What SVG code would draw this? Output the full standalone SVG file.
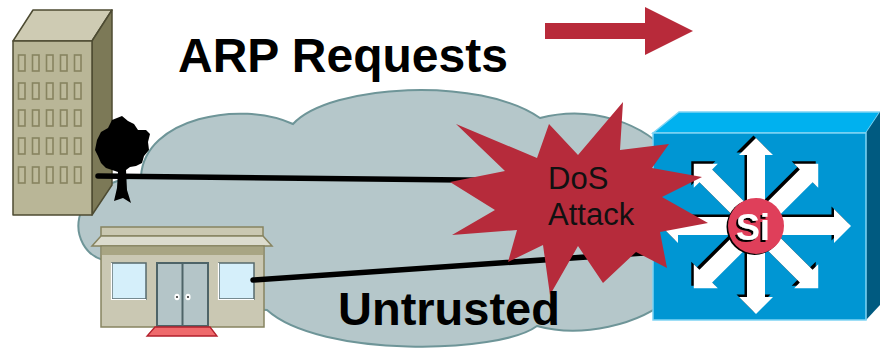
<svg xmlns="http://www.w3.org/2000/svg" width="880" height="348" viewBox="0 0 880 348">
  <defs>
    <style>
      .label { font-family: "Liberation Sans", Arial, sans-serif; font-weight: bold; fill: #000; }
      .burst-text { font-family: "Liberation Sans", Arial, sans-serif; font-size: 31px; fill: #111; }
      .wire { stroke: #000; stroke-width: 5.5; stroke-linecap: round; fill: none; }
      .win { fill: #bdba9b; stroke: #878460; stroke-width: 1.6; }
      .outline { stroke: #4d4b32; stroke-width: 1.5; stroke-linejoin: round; }
    </style>
    <!-- one spoke of the multilayer switch symbol, pointing right from the hub -->
    <path id="spoke" d="M0,-9H71V-17L88,0L71,17V9H0Z"/>
    <path id="spokeLong" d="M0,-9H78V-17L95,0L78,17V9H0Z"/>
    <filter id="hardShadow" x="-20%" y="-20%" width="140%" height="140%">
      <feDropShadow dx="-2" dy="2" stdDeviation="0" flood-color="#000" flood-opacity="1"/>
    </filter>
  </defs>

  <rect width="880" height="348" fill="#fff"/>

  <!-- network cloud -->
  <g id="cloud">
    <path d="M141,176 C145,118 240,100 293,124 C330,84 480,76 540,118 C590,105 645,122 672,158 L672,296 C640,326 580,338 537,326 C500,354 320,358 267,310 L112,300 L110,264 L103,260 C68,250 62,185 141,176 Z" fill="#b5c7ca" stroke="#6e9598" stroke-width="2"/>
  </g>

  <!-- office tower -->
  <g id="tower">
    <polygon points="13,41 33,10 112,10 92,41" fill="#cecbb3" class="outline"/>
    <polygon points="92,41 112,10 112,185 92,215" fill="#7c7957" class="outline"/>
    <rect x="13" y="41" width="79" height="174" fill="#b9b697" class="outline"/>
    <g>
      <rect class="win" x="18.5" y="55" width="6.5" height="16"/>
      <rect class="win" x="32.5" y="55" width="6.5" height="16"/>
      <rect class="win" x="46.5" y="55" width="6.5" height="16"/>
      <rect class="win" x="60.5" y="55" width="6.5" height="16"/>
      <rect class="win" x="74.5" y="55" width="6.5" height="16"/>
      <rect class="win" x="18.5" y="83" width="6.5" height="16"/>
      <rect class="win" x="32.5" y="83" width="6.5" height="16"/>
      <rect class="win" x="46.5" y="83" width="6.5" height="16"/>
      <rect class="win" x="60.5" y="83" width="6.5" height="16"/>
      <rect class="win" x="74.5" y="83" width="6.5" height="16"/>
      <rect class="win" x="18.5" y="110" width="6.5" height="16"/>
      <rect class="win" x="32.5" y="110" width="6.5" height="16"/>
      <rect class="win" x="46.5" y="110" width="6.5" height="16"/>
      <rect class="win" x="60.5" y="110" width="6.5" height="16"/>
      <rect class="win" x="74.5" y="110" width="6.5" height="16"/>
      <rect class="win" x="18.5" y="138" width="6.5" height="16"/>
      <rect class="win" x="32.5" y="138" width="6.5" height="16"/>
      <rect class="win" x="46.5" y="138" width="6.5" height="16"/>
      <rect class="win" x="60.5" y="138" width="6.5" height="16"/>
      <rect class="win" x="74.5" y="138" width="6.5" height="16"/>
      <rect class="win" x="18.5" y="167" width="6.5" height="16"/>
      <rect class="win" x="32.5" y="167" width="6.5" height="16"/>
      <rect class="win" x="46.5" y="167" width="6.5" height="16"/>
      <rect class="win" x="60.5" y="167" width="6.5" height="16"/>
      <rect class="win" x="74.5" y="167" width="6.5" height="16"/>
    </g>
  </g>

  <!-- tree beside the tower -->
  <g id="tree">
    <path d="M97,140 L101,132 L108,128 L112,120 L122,116 L128,121 L134,124 L138,130 L146,130 L150,134 L148,142 L149,150 L144,156 L142,163 L136,166 L130,167 L126,170 L127,190 L131,203 L123,198 L114,201 L117,188 L118,172 L112,170 L106,168 L101,163 L98,156 L95,150 Z" fill="#000"/>
  </g>

  <!-- branch office -->
  <g id="branch">
    <rect x="101" y="227" width="162" height="9" fill="#cac8b1" stroke="#878460" stroke-width="1.5"/>
    <polygon points="101,236 263,236 272,246 92,246" fill="#dcdcce" stroke="#878460" stroke-width="1.5"/>
    <rect x="101" y="246" width="163" height="81" fill="#cac8b3" stroke="#878460" stroke-width="1.5"/>
    <rect x="102" y="247" width="161" height="8" fill="#a8a583"/>
    <rect x="112" y="263" width="34" height="36" fill="#d5effa" stroke="#56696c" stroke-width="1.5"/>
    <path d="M111.5,263 V299.5 H146" fill="none" stroke="#fff" stroke-width="1.2"/>
    <rect x="219" y="263" width="35" height="36" fill="#d5effa" stroke="#56696c" stroke-width="1.5"/>
    <path d="M218.5,263 V299.5 H254" fill="none" stroke="#fff" stroke-width="1.2"/>
    <rect x="157" y="263" width="51" height="63" fill="#b4c5c8" stroke="#4e6468" stroke-width="2"/>
    <line x1="182.5" y1="263" x2="182.5" y2="326" stroke="#4e6468" stroke-width="2"/>
    <ellipse cx="177" cy="297" rx="2.6" ry="3.2" fill="#fff"/>
    <ellipse cx="188" cy="297" rx="2.6" ry="3.2" fill="#fff"/>
    <circle cx="177" cy="297" r="1.1" fill="#333"/>
    <circle cx="188" cy="297" r="1.1" fill="#333"/>
    <polygon points="155,327 210,327 217,336 147,336" fill="#ef6a6c" stroke="#b3202c" stroke-width="1.3"/>
  </g>

  <!-- links into the switch -->
  <g id="links">
    <line class="wire" x1="98" y1="176" x2="660" y2="182"/>
    <line class="wire" x1="253" y1="280" x2="658" y2="252"/>
  </g>

  <!-- multilayer switch -->
  <g id="switch">
    <polygon points="653,133 679,112 880,112 866,133" fill="#00b1ef" stroke="#7fd4f4" stroke-width="1.5"/>
    <polygon points="866,133 880,112 880,305 866,320" fill="#005a80"/>
    <rect x="653" y="133" width="213" height="187" fill="#0096d3" stroke="#7fd4f4" stroke-width="1.5"/>
    <g transform="translate(-2.5,-2.5)" fill="#000">
      <use href="#spoke" transform="translate(756,226) rotate(-90)"/>
      <use href="#spoke" transform="translate(756,226) rotate(90)"/>
      <use href="#spokeLong" transform="translate(756,226) rotate(180)"/>
      <use href="#spokeLong" transform="translate(756,226)"/>
      <use href="#spoke" transform="translate(756,226) rotate(-135)"/>
      <use href="#spoke" transform="translate(756,226) rotate(-45)"/>
      <use href="#spoke" transform="translate(756,226) rotate(135)"/>
      <use href="#spoke" transform="translate(756,226) rotate(45)"/>
    </g>
    <g fill="#fff">
      <use href="#spoke" transform="translate(756,226) rotate(-90)"/>
      <use href="#spoke" transform="translate(756,226) rotate(90)"/>
      <use href="#spokeLong" transform="translate(756,226) rotate(180)"/>
      <use href="#spokeLong" transform="translate(756,226)"/>
      <use href="#spoke" transform="translate(756,226) rotate(-135)"/>
      <use href="#spoke" transform="translate(756,226) rotate(-45)"/>
      <use href="#spoke" transform="translate(756,226) rotate(135)"/>
      <use href="#spoke" transform="translate(756,226) rotate(45)"/>
    </g>
    <circle cx="754.5" cy="227" r="28" fill="#000"/>
    <circle cx="756" cy="226" r="28" fill="#df3f5a"/>
    <text x="753" y="240" text-anchor="middle" class="label" font-size="36" style="fill:#fff" filter="url(#hardShadow)">Si</text>
  </g>

  <!-- attack burst -->
  <g id="dos-attack">
    <polygon points="456,124 537,158 549,124 578,155 623,102 620,150 669,144 652,168 702,177 662,197 708,223 660,232 667,268 636,252 603,283 578,246 550,295 543,245 508,262 517,230 452,235 495,210 450,182 505,171" fill="#b62b3b"/>
    <text class="burst-text" x="548" y="189">DoS</text>
    <text class="burst-text" x="548" y="225">Attack</text>
  </g>

  <!-- titles -->
  <g id="arp-title">
    <text class="label" x="178" y="72" font-size="48">ARP Requests</text>
    <polygon points="545,23 645,23 645,7 693,31 645,55 645,39 545,39" fill="#b82a3a"/>
  </g>
  <g id="zone-label">
    <text class="label" x="338" y="325" font-size="47">Untrusted</text>
  </g>
</svg>
